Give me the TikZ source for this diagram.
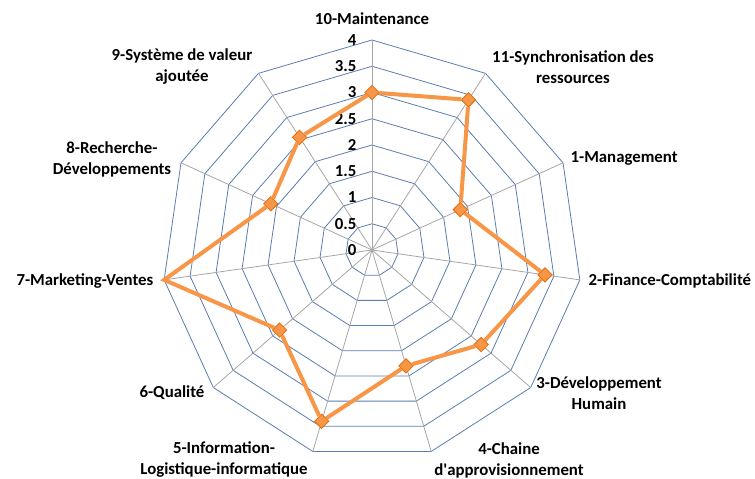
\documentclass[tikz,border=0pt]{standalone}
\usepackage{fontspec}
\setmainfont{Carlito}
\usetikzlibrary{shapes.geometric}
\definecolor{ringblue}{HTML}{5B7DB1}
\definecolor{spokegray}{HTML}{A6A6A6}
\definecolor{serieorange}{HTML}{F79646}
\definecolor{markedge}{HTML}{E46C0A}

\begin{document}
\begin{tikzpicture}[x=0.75pt,y=0.75pt,
  point/.style = {draw=markedge, diamond, fill = serieorange, inner sep = 0pt, minimum size = 11pt, line width=0.6pt},
  axe/.style = {font=\fontsize{12.6}{15.75}\selectfont\bfseries, align=center, inner sep=1pt},
  graduation/.style = {font=\fontsize{12.6}{14}\selectfont\bfseries, anchor=east, inner sep=1pt},]
\useasboundingbox (-372,-228) rectangle (383,250);
% toile
\foreach \r in {1,...,8}
  \draw[ringblue, line width=0.6pt] (90:\r*26.25) \foreach \k in {1,...,10} {-- ({90-\k*360/11}:\r*26.25)} -- cycle;
\foreach \k in {0,...,10}
  \draw[spokegray, line width=0.6pt] (0,0) -- ({90-\k*360/11}:210);
\foreach \v in {0,0.5,1,1.5,2,2.5,3,3.5,4}
  \node[graduation] at (-14,\v*52.5) {\v};
% valeurs
\node (m10) at (90:157.5)[point] {};
\node (m11) at (57.27:178.5)[point] {};
\node (m1) at (24.55:97.1)[point] {};
\node (m2) at (-8.18:174.8)[point] {};
\node (m3) at (-40.91:144.4)[point] {};
\node (m4) at (-73.64:120.8)[point] {};
\node (m5) at (-106.36:178.5)[point] {};
\node (m6) at (-139.09:122.3)[point] {};
\coordinate (m7) at (-171.82:210);
\node (m8) at (155.45:111.3)[point] {};
\node (m9) at (122.73:133.9)[point] {};
\draw[serieorange, line width=3pt] (m10)--(m11)--(m1)--(m2)--(m3)--(m4)--(m5)--(m6)--(m7)--(m8)--(m9)--(m10);
% axes
\node[axe] (l10) at (0,231) {10-Maintenance};
\node[axe] (l11) at (201,183) {11-Synchronisation des\\ressources};
\node[axe, anchor=west] (l1) at (197,92) {1-Management};
\node[axe, anchor=west] (l2) at (215,-31) {2-Finance-Comptabilité};
\node[axe] (l3) at (227,-143) {3-Développement\\Humain};
\node[axe] (l4) at (137,-210) {4-Chaine\\d\textquotesingle approvisionnement};
\node[axe] (l5) at (-148,-210) {5-Information-\\Logistique-informatique};
\node[axe, anchor=east] (l6) at (-166,-143) {6-Qualité};
\node[axe, anchor=east] (l7) at (-217,-31) {7-Marketing-Ventes};
\node[axe] (l8) at (-260,90.5) {8-Recherche-\\Développements};
\node[axe] (l9) at (-190,183) {9-Système de valeur\\ajoutée};
\end{tikzpicture}
\end{document}
